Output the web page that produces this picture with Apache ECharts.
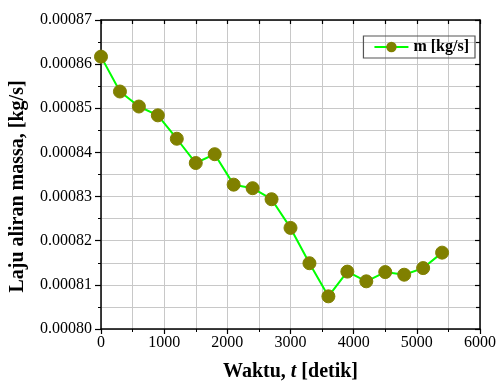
<!DOCTYPE html>
<html><head><meta charset="utf-8">
<script src="https://cdn.jsdelivr.net/npm/echarts@6/dist/echarts.min.js"></script>
<style>html,body{margin:0;padding:0;background:#fff}#c{width:499px;height:387px}</style>
</head><body><div id="c"></div>
<script>
const times = [0,300,600,900,1200,1500,1800,2100,2400,2700,3000,3300,3600,3900,4200,4500,4800,5100,5400];
const massFlow = [0.0008617,0.0008538,0.0008504,0.0008484,0.0008431,0.0008376,0.0008396,0.0008327,0.0008319,0.0008294,0.0008229,0.0008149,0.0008074,0.0008130,0.0008108,0.0008129,0.0008123,0.0008138,0.0008173];
const seriesName = 'm [kg/s]';
const xTitle = ['Waktu, ', 't', ' [detik]'];
const yTitle = 'Laju aliran massa, [kg/s]';

const F = '"Liberation Serif","Times New Roman",serif';
const chart = echarts.init(document.getElementById('c'), null, {renderer:'canvas'});
const gridLine = {show:true, lineStyle:{color:'#c8c8c8', width:1}};
chart.setOption({
  animation:false,
  backgroundColor:'#fff',
  grid:{left:101, right:18, top:20, bottom:57},
  legend:{
    right:24, top:36, padding:[3,6,3,10],
    borderColor:'#555', borderWidth:1.2, borderRadius:0,
    itemWidth:34, itemHeight:13, itemGap:5,
    textStyle:{fontFamily:F, fontWeight:'bold', fontSize:16, color:'#000'},
    data:[{name:seriesName}]
  },
  xAxis:[{
    type:'value', min:0, max:6000, interval:1000,
    axisLine:{show:true, onZero:false, lineStyle:{color:'#000', width:1.5}},
    axisTick:{show:true, inside:false, length:5, lineStyle:{color:'#000', width:1.2}},
    minorTick:{show:true, splitNumber:2, length:3, lineStyle:{color:'#000', width:1}},
    splitLine:gridLine, minorSplitLine:gridLine,
    axisLabel:{fontFamily:F, fontSize:16, color:'#000', margin:6, formatter:v=>String(v)},
    name:'{a|'+xTitle[0]+'}{b|'+xTitle[1]+'}{a|'+xTitle[2]+'}',
    nameLocation:'middle', nameGap:33,
    nameTextStyle:{rich:{
      a:{fontFamily:F, fontWeight:'bold', fontSize:20, color:'#000'},
      b:{fontFamily:F, fontWeight:'bold', fontStyle:'italic', fontSize:20, color:'#000'}
    }}
  },{
    type:'value', position:'top', min:0, max:6000, interval:1000,
    axisLine:{show:true, onZero:false, lineStyle:{color:'#000', width:1.5}},
    axisTick:{show:true, inside:true, length:4, lineStyle:{color:'#000', width:1.2}},
    minorTick:{show:true, splitNumber:2, length:4, lineStyle:{color:'#000', width:1.2}},
    axisLabel:{show:false}, splitLine:{show:false}
  }],
  yAxis:[{
    type:'value', min:0.0008, max:0.00087, interval:0.00001,
    axisLine:{show:true, onZero:false, lineStyle:{color:'#000', width:1.5}},
    axisTick:{show:true, inside:false, length:6, lineStyle:{color:'#000', width:1.2}},
    minorTick:{show:true, splitNumber:2, length:3, lineStyle:{color:'#000', width:1}},
    splitLine:gridLine, minorSplitLine:gridLine,
    axisLabel:{fontFamily:F, fontSize:16, color:'#000', margin:9, formatter:v=>v.toFixed(5)},
    name:yTitle, nameLocation:'middle', nameGap:73, nameRotate:90,
    nameTextStyle:{fontFamily:F, fontWeight:'bold', fontSize:20, color:'#000', padding:[0,24,0,0]}
  },{
    type:'value', position:'right', min:0.0008, max:0.00087, interval:0.00001,
    axisLine:{show:true, onZero:false, lineStyle:{color:'#000', width:1.5}},
    axisTick:{show:true, inside:true, length:5, lineStyle:{color:'#000', width:1.2}},
    minorTick:{show:true, splitNumber:2, length:4, lineStyle:{color:'#000', width:1.2}},
    axisLabel:{show:false}, splitLine:{show:false}
  }],
  series:[{
    name:seriesName, type:'line',
    data:times.map((t,i)=>[t, massFlow[i]]),
    symbol:'circle', symbolSize:13,
    lineStyle:{color:'#00ff00', width:2},
    itemStyle:{color:'#808000', borderColor:'#808000'},
    clip:false, z:5
  }]
});
</script></body></html>
